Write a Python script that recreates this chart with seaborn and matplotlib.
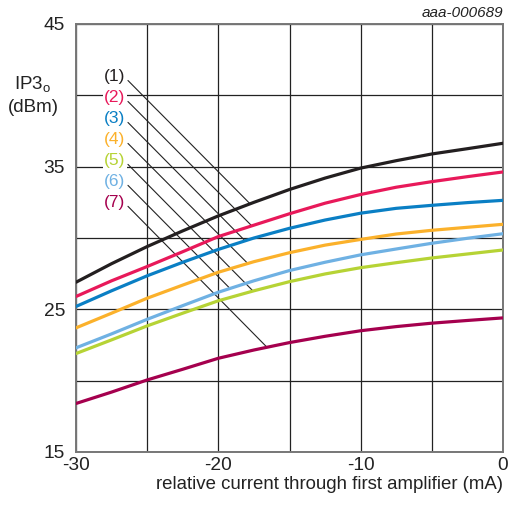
import numpy as np
import pandas as pd
import matplotlib
matplotlib.use("Agg")
import matplotlib.pyplot as plt
import seaborn as sns

sns.set_style("white")
plt.rcParams['font.family'] = ['Liberation Sans', 'DejaVu Sans']
plt.rcParams['mathtext.fontset'] = 'custom'
plt.rcParams['mathtext.rm'] = 'Liberation Sans'

current = [-30, -27.5, -25, -22.5, -20, -17.5, -15, -12.5, -10, -7.5, -5, -2.5, 0]
curve1 = [26.9, 28.2, 29.4, 30.5, 31.55, 32.5, 33.4, 34.2, 34.9, 35.42, 35.89, 36.26, 36.64]
curve2 = [25.9, 27.0, 28.0, 29.04, 30.1, 30.9, 31.7, 32.44, 33.05, 33.56, 33.95, 34.3, 34.63]
curve3 = [25.2, 26.3, 27.35, 28.3, 29.2, 30.0, 30.68, 31.26, 31.74, 32.08, 32.29, 32.48, 32.64]
curve4 = [23.7, 24.73, 25.78, 26.7, 27.6, 28.34, 28.97, 29.5, 29.9, 30.28, 30.54, 30.75, 30.96]
curve5 = [21.9, 22.86, 23.84, 24.73, 25.6, 26.3, 26.94, 27.48, 27.92, 28.27, 28.6, 28.88, 29.16]
curve6 = [22.3, 23.28, 24.3, 25.26, 26.2, 27.0, 27.72, 28.3, 28.82, 29.23, 29.63, 29.98, 30.3]
curve7 = [18.4, 19.2, 20.05, 20.8, 21.57, 22.15, 22.67, 23.11, 23.5, 23.79, 24.03, 24.22, 24.4]
labels = ["(1)", "(2)", "(3)", "(4)", "(5)", "(6)", "(7)"]
leader_end_x = [-17.77, -17.65, -18.12, -17.93, -17.56, -19.18, -16.58]
x_ticks = [-30, -20, -10, 0]
y_ticks = [15, 25, 35, 45]

colors = ["#231f20", "#e8195a", "#0a7fc4", "#fbb12b", "#b6d335", "#6fb1e3", "#a5004e"]
series = [curve1, curve2, curve3, curve4, curve5, curve6, curve7]

df = pd.DataFrame({
    "x": np.tile(current, len(series)),
    "y": np.concatenate(series),
    "curve": np.repeat(labels, len(current)),
})

fig = plt.figure(figsize=(5.09, 5.07), dpi=100)
ax = fig.add_axes([76 / 509, 55 / 507, 427 / 509, 428 / 507])

sns.lineplot(data=df, x="x", y="y", hue="curve", palette=colors, linewidth=2.3,
             legend=False, ax=ax, zorder=3)

grid_x = np.arange(-30, 1, 5)
grid_y = np.arange(15, 46, 5)
ax.set_xlim(-30, 0)
ax.set_ylim(15, 45)
ax.set_xticks(grid_x)
ax.set_yticks(grid_y)
ax.set_xticklabels([str(v) if v in x_ticks else "" for v in grid_x])
ax.set_yticklabels([str(v) if v in y_ticks else "" for v in grid_y])
ax.grid(True, color="#222222", linewidth=0.9)
ax.tick_params(axis="both", length=0, labelsize=13.8, colors="#222222")
ax.tick_params(axis="y", pad=8)
ax.tick_params(axis="x", pad=3.5)
for s in ax.spines.values():
    s.set_color("#777777")
    s.set_linewidth(1.4)
ax.set_xlabel("relative current through first amplifier (mA)", fontsize=13.4,
              color="#222222")
ax.xaxis.set_label_coords(1.0, -0.0755)
ax.xaxis.label.set_horizontalalignment("right")
ax.xaxis.label.set_verticalalignment("center")
ax.set_ylabel("")

fig.text(33 / 509, 1 - 85 / 507, r"IP3$_\mathregular{o}$", fontsize=13.5, ha="center", va="center", color="#222222")
fig.text(33 / 509, 1 - 107 / 507, "(dBm)", fontsize=13.5, ha="center", va="center", color="#222222")
fig.text(503 / 509, 1 - 13 / 507, "aaa-000689", fontsize=11, style="italic", ha="right", va="center", color="#222222")

label_x = -27.26
label_y0 = 41.29
step = 1.47
for i, (lab, col, ser, ex) in enumerate(zip(labels, colors, series, leader_end_x)):
    ly = label_y0 - i * step
    ax.text(label_x, ly, lab, color=col, fontsize=12.5, ha="center", va="center",
            bbox=dict(facecolor="white", edgecolor="none", pad=1.0), zorder=4)
    ey = np.interp(ex, current, ser)
    sx = -26.35
    sy = ly - 0.25
    ax.plot([sx, ex], [sy, ey], color="#222222", linewidth=0.8, zorder=2.5)

fig.savefig("out.png", dpi=100)
